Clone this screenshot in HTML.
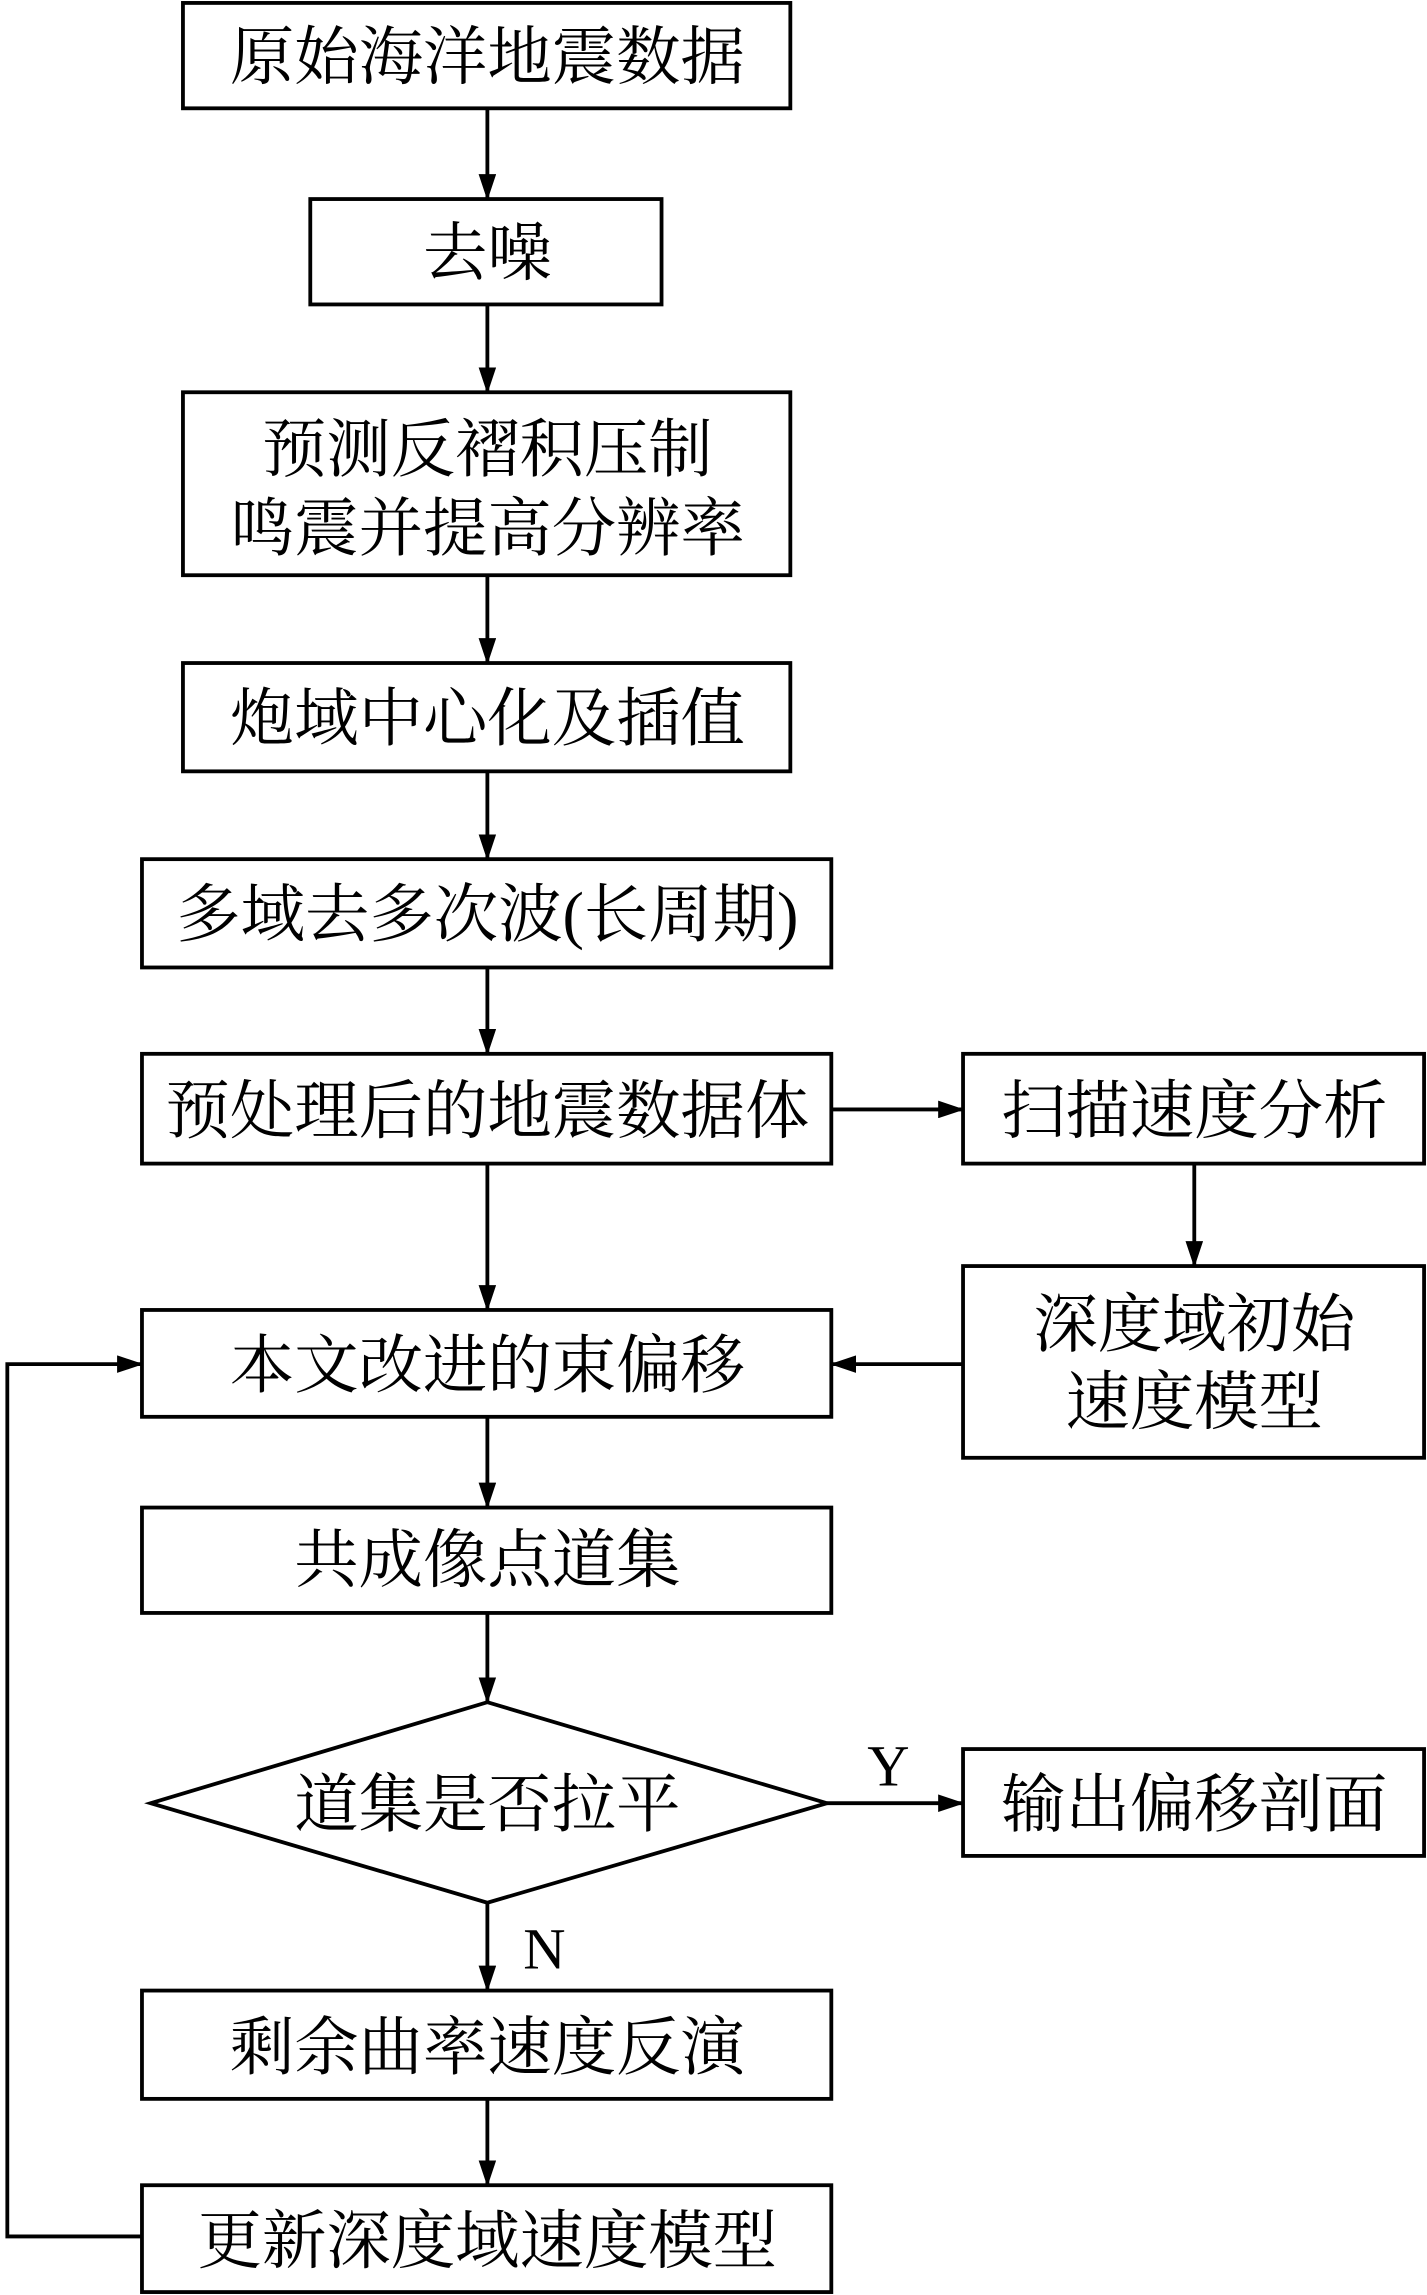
<!DOCTYPE html>
<html><head><meta charset="utf-8"><style>html,body{margin:0;padding:0;background:#fff}svg{display:block}</style></head>
<body>
<svg width="1427" height="2295" viewBox="0 0 975 1568" preserveAspectRatio="none" xmlns="http://www.w3.org/2000/svg">
<defs><marker id="a" markerWidth="18" markerHeight="12" refX="17" refY="6" orient="auto" markerUnits="userSpaceOnUse"><path d="M0,0 L18,6 L0,12 Z" fill="#000"/></marker></defs>
<g fill="#fff" stroke="#000" stroke-width="2.6">
<rect x="125" y="2" width="415" height="72"/>
<rect x="212" y="136" width="240" height="72"/>
<rect x="125" y="268" width="415" height="125"/>
<rect x="125" y="453" width="415" height="74"/>
<rect x="97" y="587" width="471" height="74"/>
<rect x="97" y="720" width="471" height="75"/>
<rect x="658" y="720" width="315" height="75"/>
<rect x="658" y="865" width="315" height="131"/>
<rect x="97" y="895" width="471" height="73"/>
<rect x="97" y="1030" width="471" height="72"/>
<polygon points="103,1232 333,1163 565,1232 333,1300"/>
<rect x="658" y="1195" width="315" height="73"/>
<rect x="97" y="1360" width="471" height="74"/>
<rect x="97" y="1493" width="471" height="73"/>
</g>
<g stroke="#000" stroke-width="2.6" fill="none" marker-end="url(#a)">
<line x1="333" y1="74" x2="333" y2="136"/>
<line x1="333" y1="208" x2="333" y2="268"/>
<line x1="333" y1="393" x2="333" y2="453"/>
<line x1="333" y1="527" x2="333" y2="587"/>
<line x1="333" y1="661" x2="333" y2="720"/>
<line x1="333" y1="795" x2="333" y2="895"/>
<line x1="568" y1="758" x2="658" y2="758"/>
<line x1="816" y1="795" x2="816" y2="865"/>
<line x1="658" y1="932" x2="568" y2="932"/>
<line x1="333" y1="968" x2="333" y2="1030"/>
<line x1="333" y1="1102" x2="333" y2="1163"/>
<line x1="565" y1="1232" x2="658" y2="1232"/>
<line x1="333" y1="1300" x2="333" y2="1360"/>
<line x1="333" y1="1434" x2="333" y2="1493"/>
<polyline points="97,1528 5,1528 5,932 97,932"/>
</g>
<g font-family="'Liberation Serif','Noto Serif CJK SC',serif" font-size="44" text-anchor="middle" fill="#000">
<text x="333" y="54">原始海洋地震数据</text>
<text x="333" y="188">去噪</text>
<text x="333" y="322">预测反褶积压制</text>
<text x="333" y="376">鸣震并提高分辨率</text>
<text x="333" y="506">炮域中心化及插值</text>
<text x="333" y="640">多域去多次波(长周期)</text>
<text x="333" y="774">预处理后的地震数据体</text>
<text x="816" y="774">扫描速度分析</text>
<text x="816" y="920">深度域初始</text>
<text x="816" y="973">速度模型</text>
<text x="333" y="948">本文改进的束偏移</text>
<text x="333" y="1081">共成像点道集</text>
<text x="333" y="1248">道集是否拉平</text>
<text x="816" y="1248">输出偏移剖面</text>
<text x="333" y="1414">剩余曲率速度反演</text>
<text x="333" y="1546">更新深度域速度模型</text>
<text x="607" y="1220" font-size="40">Y</text>
<text x="372" y="1345" font-size="40">N</text>
</g>
</svg>
</body></html>
